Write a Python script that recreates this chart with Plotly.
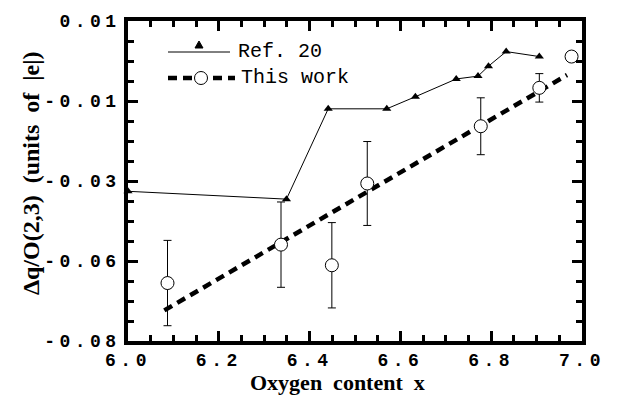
import plotly.graph_objects as go

# Ref. 20 data (triangles joined by a thin line)
ref_x = [6.00, 6.349, 6.441, 6.570, 6.633, 6.723, 6.771, 6.794, 6.833, 6.906]
ref_y = [-0.0379, -0.0401, -0.0147, -0.0147, -0.0113, -0.0063, -0.0055, -0.0027, 0.0014, 0.0000]

# This work: measured points with error bars
work_x = [6.087, 6.337, 6.449, 6.527, 6.777, 6.906, 6.977]
work_y = [-0.0637, -0.0529, -0.0587, -0.0357, -0.0196, -0.0088, 0.0000]
work_err = [0.0120, 0.0120, 0.0120, 0.0118, 0.0080, 0.0040, 0.0]

# Linear fit through this work (end points)
fit_x = [6.08, 6.967]
fit_y = [-0.0714, -0.0052]

# Axis ticks
x_ticks = [6.0, 6.2, 6.4, 6.6, 6.8, 7.0]
y_ticks = [0.01, -0.0125, -0.035, -0.0575, -0.08]
y_ticktext = ["0.01", "-0.01", "-0.03", "-0.06", "-0.08"]

MONO = "Liberation Mono"
SERIF = "Liberation Serif"


def spaced(s, px=4.5):
    return f'<span style="letter-spacing:{px}px">{s}</span>'


fig = go.Figure()

fig.add_trace(go.Scatter(
    x=fit_x, y=fit_y, mode="lines",
    line=dict(color="black", width=4.5, dash="9px,6px"),
    showlegend=False, hoverinfo="skip",
))

fig.add_trace(go.Scatter(
    x=ref_x, y=ref_y, mode="lines+markers",
    line=dict(color="black", width=1),
    marker=dict(symbol="triangle-up", size=8, color="black"),
    cliponaxis=False, showlegend=False,
))

fig.add_trace(go.Scatter(
    x=work_x, y=work_y, mode="markers",
    marker=dict(symbol="circle", size=13, color="white",
                line=dict(color="black", width=1)),
    error_y=dict(type="data", array=work_err, visible=True,
                 color="black", thickness=1, width=4),
    cliponaxis=False, showlegend=False,
))

axis_common = dict(
    showline=True, linecolor="black", linewidth=3.5,
    mirror="allticks", ticks="inside", ticklen=10, tickwidth=2.5,
    tickcolor="black", showgrid=False, zeroline=False,
)

fig.update_xaxes(
    range=[6.0, 7.0], tickvals=x_ticks,
    ticktext=[spaced(f"{v:.1f}") for v in x_ticks],
    tickfont=dict(family=MONO, size=18, color="black", weight="bold"),
    minor=dict(dtick=0.05, tick0=6.0, ticks="inside", ticklen=6,
               tickwidth=2.5, tickcolor="black", showgrid=False),
    **axis_common,
)

fig.update_yaxes(
    range=[-0.08, 0.01], tickvals=y_ticks,
    ticktext=[spaced(t) for t in y_ticktext],
    tickfont=dict(family=MONO, size=18, color="black", weight="bold"),
    minor=dict(dtick=0.005625, tick0=-0.08, ticks="inside", ticklen=6,
               tickwidth=2.5, tickcolor="black", showgrid=False),
    **axis_common,
)

# Hand-drawn legend in the upper-left corner of the plot
shapes = [
    dict(type="line", xref="paper", yref="paper", xsizemode="pixel",
         ysizemode="pixel", xanchor=0.0, yanchor=1.0,
         x0=40, x1=102, y0=-31, y1=-31,
         line=dict(color="black", width=1)),
    dict(type="path", xref="paper", yref="paper", xsizemode="pixel",
         ysizemode="pixel", xanchor=0.0, yanchor=1.0,
         path="M 67,-27 L 75,-27 L 71,-20 Z",
         fillcolor="black", line=dict(color="black", width=1)),
    dict(type="line", xref="paper", yref="paper", xsizemode="pixel",
         ysizemode="pixel", xanchor=0.0, yanchor=1.0,
         x0=40, x1=107, y0=-57, y1=-57,
         line=dict(color="black", width=4.5, dash="9px,6px")),
    dict(type="circle", xref="paper", yref="paper", xsizemode="pixel",
         ysizemode="pixel", xanchor=0.0, yanchor=1.0,
         x0=66.5, x1=79.5, y0=-63.5, y1=-50.5,
         fillcolor="white", line=dict(color="black", width=1)),
]

annotations = [
    dict(text="Ref. 20", xref="paper", yref="paper", x=0.238, y=0.905,
         xanchor="left", yanchor="middle", showarrow=False,
         font=dict(family=MONO, size=20, color="black")),
    dict(text="This work", xref="paper", yref="paper", x=0.244, y=0.822,
         xanchor="left", yanchor="middle", showarrow=False,
         font=dict(family=MONO, size=20, color="black")),
    # axis titles
    dict(text="Oxygen  content  x", xref="paper", yref="paper",
         x=0.462, y=-0.1754, xanchor="center", yanchor="bottom",
         showarrow=False,
         font=dict(family=SERIF, size=22, color="black", weight="bold")),
    dict(text="Δq/O(2,3)  (units  of  |e|)", xref="paper", yref="paper",
         x=-0.215, y=0.526, xanchor="center", yanchor="middle",
         textangle=-90, showarrow=False,
         font=dict(family=SERIF, size=24, color="black", weight="bold")),
]

fig.update_layout(
    width=617, height=398,
    margin=dict(l=128, r=26, t=16, b=57),
    paper_bgcolor="white", plot_bgcolor="white",
    shapes=shapes, annotations=annotations,
)

fig.write_html("out.html")
